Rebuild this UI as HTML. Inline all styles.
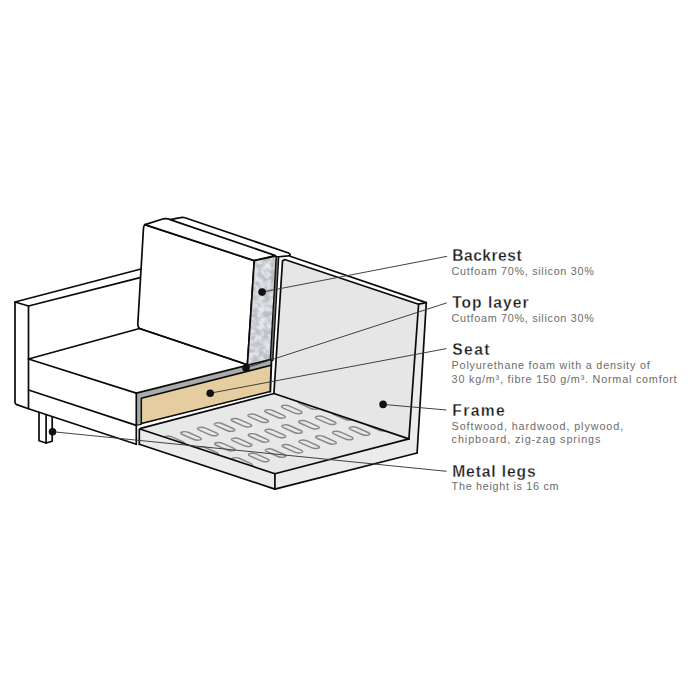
<!DOCTYPE html>
<html><head><meta charset="utf-8"><style>
html,body{margin:0;padding:0;background:#fff;width:700px;height:700px;overflow:hidden}
svg{display:block}
</style></head><body>
<svg width="700" height="700" viewBox="0 0 700 700">
<polygon points="282.70,259.50 418.60,304.20 408.90,438.90 273.90,393.50" fill="#e6e6e6"/>
<polygon points="282.70,259.50 290.10,256.30 426.30,302.60 418.60,304.20" fill="#ffffff"/>
<polygon points="418.60,304.20 426.30,302.60 417.10,453.00 408.90,438.90" fill="#ececec"/>
<polygon points="140.60,429.20 274.90,473.70 408.90,438.90 273.90,393.50" fill="#e8e8e8"/>
<polygon points="139.30,428.50 274.90,473.70 274.90,489.10 139.30,444.30" fill="#ebebeb"/>
<polygon points="274.90,473.70 408.90,438.90 417.10,453.00 274.90,489.10" fill="#ebebeb"/>
<clipPath id="plat"><polygon points="140.60,429.20 274.90,473.70 408.90,438.90 273.90,393.50"/></clipPath>
<g clip-path="url(#plat)"><rect x="-9.70" y="-3.50" width="19.40" height="7.00" rx="3.50" transform="matrix(0.9135,0.4067,0.9703,-0.2419,140.60,449.10)" fill="none" stroke="#888888" stroke-width="1.45" vector-effect="non-scaling-stroke"/><rect x="-9.70" y="-3.50" width="19.40" height="7.00" rx="3.50" transform="matrix(0.9135,0.4067,0.9703,-0.2419,157.40,444.70)" fill="none" stroke="#888888" stroke-width="1.45" vector-effect="non-scaling-stroke"/><rect x="-9.70" y="-3.50" width="19.40" height="7.00" rx="3.50" transform="matrix(0.9135,0.4067,0.9703,-0.2419,174.20,440.30)" fill="none" stroke="#888888" stroke-width="1.45" vector-effect="non-scaling-stroke"/><rect x="-9.70" y="-3.50" width="19.40" height="7.00" rx="3.50" transform="matrix(0.9135,0.4067,0.9703,-0.2419,191.00,435.90)" fill="none" stroke="#888888" stroke-width="1.45" vector-effect="non-scaling-stroke"/><rect x="-9.70" y="-3.50" width="19.40" height="7.00" rx="3.50" transform="matrix(0.9135,0.4067,0.9703,-0.2419,207.80,431.50)" fill="none" stroke="#888888" stroke-width="1.45" vector-effect="non-scaling-stroke"/><rect x="-9.70" y="-3.50" width="19.40" height="7.00" rx="3.50" transform="matrix(0.9135,0.4067,0.9703,-0.2419,224.60,427.10)" fill="none" stroke="#888888" stroke-width="1.45" vector-effect="non-scaling-stroke"/><rect x="-9.70" y="-3.50" width="19.40" height="7.00" rx="3.50" transform="matrix(0.9135,0.4067,0.9703,-0.2419,241.40,422.70)" fill="none" stroke="#888888" stroke-width="1.45" vector-effect="non-scaling-stroke"/><rect x="-9.70" y="-3.50" width="19.40" height="7.00" rx="3.50" transform="matrix(0.9135,0.4067,0.9703,-0.2419,258.20,418.30)" fill="none" stroke="#888888" stroke-width="1.45" vector-effect="non-scaling-stroke"/><rect x="-9.70" y="-3.50" width="19.40" height="7.00" rx="3.50" transform="matrix(0.9135,0.4067,0.9703,-0.2419,275.00,413.90)" fill="none" stroke="#888888" stroke-width="1.45" vector-effect="non-scaling-stroke"/><rect x="-9.70" y="-3.50" width="19.40" height="7.00" rx="3.50" transform="matrix(0.9135,0.4067,0.9703,-0.2419,291.80,409.50)" fill="none" stroke="#888888" stroke-width="1.45" vector-effect="non-scaling-stroke"/><rect x="-9.70" y="-3.50" width="19.40" height="7.00" rx="3.50" transform="matrix(0.9135,0.4067,0.9703,-0.2419,308.60,405.10)" fill="none" stroke="#888888" stroke-width="1.45" vector-effect="non-scaling-stroke"/><rect x="-9.70" y="-3.50" width="19.40" height="7.00" rx="3.50" transform="matrix(0.9135,0.4067,0.9703,-0.2419,325.40,400.70)" fill="none" stroke="#888888" stroke-width="1.45" vector-effect="non-scaling-stroke"/><rect x="-9.70" y="-3.50" width="19.40" height="7.00" rx="3.50" transform="matrix(0.9135,0.4067,0.9703,-0.2419,342.20,396.30)" fill="none" stroke="#888888" stroke-width="1.45" vector-effect="non-scaling-stroke"/><rect x="-9.70" y="-3.50" width="19.40" height="7.00" rx="3.50" transform="matrix(0.9135,0.4067,0.9703,-0.2419,359.00,391.90)" fill="none" stroke="#888888" stroke-width="1.45" vector-effect="non-scaling-stroke"/><rect x="-9.70" y="-3.50" width="19.40" height="7.00" rx="3.50" transform="matrix(0.9135,0.4067,0.9703,-0.2419,375.80,387.50)" fill="none" stroke="#888888" stroke-width="1.45" vector-effect="non-scaling-stroke"/><rect x="-9.70" y="-3.50" width="19.40" height="7.00" rx="3.50" transform="matrix(0.9135,0.4067,0.9703,-0.2419,392.60,383.10)" fill="none" stroke="#888888" stroke-width="1.45" vector-effect="non-scaling-stroke"/><rect x="-9.70" y="-3.50" width="19.40" height="7.00" rx="3.50" transform="matrix(0.9135,0.4067,0.9703,-0.2419,140.90,468.70)" fill="none" stroke="#888888" stroke-width="1.45" vector-effect="non-scaling-stroke"/><rect x="-9.70" y="-3.50" width="19.40" height="7.00" rx="3.50" transform="matrix(0.9135,0.4067,0.9703,-0.2419,157.70,464.30)" fill="none" stroke="#888888" stroke-width="1.45" vector-effect="non-scaling-stroke"/><rect x="-9.70" y="-3.50" width="19.40" height="7.00" rx="3.50" transform="matrix(0.9135,0.4067,0.9703,-0.2419,174.50,459.90)" fill="none" stroke="#888888" stroke-width="1.45" vector-effect="non-scaling-stroke"/><rect x="-9.70" y="-3.50" width="19.40" height="7.00" rx="3.50" transform="matrix(0.9135,0.4067,0.9703,-0.2419,191.30,455.50)" fill="none" stroke="#888888" stroke-width="1.45" vector-effect="non-scaling-stroke"/><rect x="-9.70" y="-3.50" width="19.40" height="7.00" rx="3.50" transform="matrix(0.9135,0.4067,0.9703,-0.2419,208.10,451.10)" fill="none" stroke="#888888" stroke-width="1.45" vector-effect="non-scaling-stroke"/><rect x="-9.70" y="-3.50" width="19.40" height="7.00" rx="3.50" transform="matrix(0.9135,0.4067,0.9703,-0.2419,224.90,446.70)" fill="none" stroke="#888888" stroke-width="1.45" vector-effect="non-scaling-stroke"/><rect x="-9.70" y="-3.50" width="19.40" height="7.00" rx="3.50" transform="matrix(0.9135,0.4067,0.9703,-0.2419,241.70,442.30)" fill="none" stroke="#888888" stroke-width="1.45" vector-effect="non-scaling-stroke"/><rect x="-9.70" y="-3.50" width="19.40" height="7.00" rx="3.50" transform="matrix(0.9135,0.4067,0.9703,-0.2419,258.50,437.90)" fill="none" stroke="#888888" stroke-width="1.45" vector-effect="non-scaling-stroke"/><rect x="-9.70" y="-3.50" width="19.40" height="7.00" rx="3.50" transform="matrix(0.9135,0.4067,0.9703,-0.2419,275.30,433.50)" fill="none" stroke="#888888" stroke-width="1.45" vector-effect="non-scaling-stroke"/><rect x="-9.70" y="-3.50" width="19.40" height="7.00" rx="3.50" transform="matrix(0.9135,0.4067,0.9703,-0.2419,292.10,429.10)" fill="none" stroke="#888888" stroke-width="1.45" vector-effect="non-scaling-stroke"/><rect x="-9.70" y="-3.50" width="19.40" height="7.00" rx="3.50" transform="matrix(0.9135,0.4067,0.9703,-0.2419,308.90,424.70)" fill="none" stroke="#888888" stroke-width="1.45" vector-effect="non-scaling-stroke"/><rect x="-9.70" y="-3.50" width="19.40" height="7.00" rx="3.50" transform="matrix(0.9135,0.4067,0.9703,-0.2419,325.70,420.30)" fill="none" stroke="#888888" stroke-width="1.45" vector-effect="non-scaling-stroke"/><rect x="-9.70" y="-3.50" width="19.40" height="7.00" rx="3.50" transform="matrix(0.9135,0.4067,0.9703,-0.2419,342.50,415.90)" fill="none" stroke="#888888" stroke-width="1.45" vector-effect="non-scaling-stroke"/><rect x="-9.70" y="-3.50" width="19.40" height="7.00" rx="3.50" transform="matrix(0.9135,0.4067,0.9703,-0.2419,359.30,411.50)" fill="none" stroke="#888888" stroke-width="1.45" vector-effect="non-scaling-stroke"/><rect x="-9.70" y="-3.50" width="19.40" height="7.00" rx="3.50" transform="matrix(0.9135,0.4067,0.9703,-0.2419,376.10,407.10)" fill="none" stroke="#888888" stroke-width="1.45" vector-effect="non-scaling-stroke"/><rect x="-9.70" y="-3.50" width="19.40" height="7.00" rx="3.50" transform="matrix(0.9135,0.4067,0.9703,-0.2419,392.90,402.70)" fill="none" stroke="#888888" stroke-width="1.45" vector-effect="non-scaling-stroke"/><rect x="-9.70" y="-3.50" width="19.40" height="7.00" rx="3.50" transform="matrix(0.9135,0.4067,0.9703,-0.2419,141.20,488.30)" fill="none" stroke="#888888" stroke-width="1.45" vector-effect="non-scaling-stroke"/><rect x="-9.70" y="-3.50" width="19.40" height="7.00" rx="3.50" transform="matrix(0.9135,0.4067,0.9703,-0.2419,158.00,483.90)" fill="none" stroke="#888888" stroke-width="1.45" vector-effect="non-scaling-stroke"/><rect x="-9.70" y="-3.50" width="19.40" height="7.00" rx="3.50" transform="matrix(0.9135,0.4067,0.9703,-0.2419,174.80,479.50)" fill="none" stroke="#888888" stroke-width="1.45" vector-effect="non-scaling-stroke"/><rect x="-9.70" y="-3.50" width="19.40" height="7.00" rx="3.50" transform="matrix(0.9135,0.4067,0.9703,-0.2419,191.60,475.10)" fill="none" stroke="#888888" stroke-width="1.45" vector-effect="non-scaling-stroke"/><rect x="-9.70" y="-3.50" width="19.40" height="7.00" rx="3.50" transform="matrix(0.9135,0.4067,0.9703,-0.2419,208.40,470.70)" fill="none" stroke="#888888" stroke-width="1.45" vector-effect="non-scaling-stroke"/><rect x="-9.70" y="-3.50" width="19.40" height="7.00" rx="3.50" transform="matrix(0.9135,0.4067,0.9703,-0.2419,225.20,466.30)" fill="none" stroke="#888888" stroke-width="1.45" vector-effect="non-scaling-stroke"/><rect x="-9.70" y="-3.50" width="19.40" height="7.00" rx="3.50" transform="matrix(0.9135,0.4067,0.9703,-0.2419,242.00,461.90)" fill="none" stroke="#888888" stroke-width="1.45" vector-effect="non-scaling-stroke"/><rect x="-9.70" y="-3.50" width="19.40" height="7.00" rx="3.50" transform="matrix(0.9135,0.4067,0.9703,-0.2419,258.80,457.50)" fill="none" stroke="#888888" stroke-width="1.45" vector-effect="non-scaling-stroke"/><rect x="-9.70" y="-3.50" width="19.40" height="7.00" rx="3.50" transform="matrix(0.9135,0.4067,0.9703,-0.2419,275.60,453.10)" fill="none" stroke="#888888" stroke-width="1.45" vector-effect="non-scaling-stroke"/><rect x="-9.70" y="-3.50" width="19.40" height="7.00" rx="3.50" transform="matrix(0.9135,0.4067,0.9703,-0.2419,292.40,448.70)" fill="none" stroke="#888888" stroke-width="1.45" vector-effect="non-scaling-stroke"/><rect x="-9.70" y="-3.50" width="19.40" height="7.00" rx="3.50" transform="matrix(0.9135,0.4067,0.9703,-0.2419,309.20,444.30)" fill="none" stroke="#888888" stroke-width="1.45" vector-effect="non-scaling-stroke"/><rect x="-9.70" y="-3.50" width="19.40" height="7.00" rx="3.50" transform="matrix(0.9135,0.4067,0.9703,-0.2419,326.00,439.90)" fill="none" stroke="#888888" stroke-width="1.45" vector-effect="non-scaling-stroke"/><rect x="-9.70" y="-3.50" width="19.40" height="7.00" rx="3.50" transform="matrix(0.9135,0.4067,0.9703,-0.2419,342.80,435.50)" fill="none" stroke="#888888" stroke-width="1.45" vector-effect="non-scaling-stroke"/><rect x="-9.70" y="-3.50" width="19.40" height="7.00" rx="3.50" transform="matrix(0.9135,0.4067,0.9703,-0.2419,359.60,431.10)" fill="none" stroke="#888888" stroke-width="1.45" vector-effect="non-scaling-stroke"/><rect x="-9.70" y="-3.50" width="19.40" height="7.00" rx="3.50" transform="matrix(0.9135,0.4067,0.9703,-0.2419,376.40,426.70)" fill="none" stroke="#888888" stroke-width="1.45" vector-effect="non-scaling-stroke"/><rect x="-9.70" y="-3.50" width="19.40" height="7.00" rx="3.50" transform="matrix(0.9135,0.4067,0.9703,-0.2419,393.20,422.30)" fill="none" stroke="#888888" stroke-width="1.45" vector-effect="non-scaling-stroke"/></g>
<polygon points="15.00,302.00 141.00,269.00 140.00,277.60 28.50,306.00" fill="#fff"/>
<polygon points="39.00,412.70 52.20,417.20 52.20,441.30 46.10,443.00 39.00,440.70" fill="#fff"/>
<polygon points="136.30,393.10 271.30,359.30 270.30,392.00 136.30,425.20" fill="#a9acaf"/>
<polygon points="141.30,398.20 271.00,365.30 270.20,391.40 141.30,423.60" fill="#e5cd9f"/>
<path d="M144.9,224.6 L254.3,260.6 L247.4,364.8 L139.5,328.5 Q137.6,327 137.8,324 L143.5,228 Q143.8,225.5 144.9,224.6 Z" fill="#fff" stroke="#0a0a0a" stroke-width="1.7" stroke-linejoin="round"/>
<path d="M170,219.6 L180.5,217.6 Q183,217 185,217.8 L288.5,253 Q290.5,254 290,255.5 L288,255.8 L276.5,257" fill="#fff" stroke="#0a0a0a" stroke-width="1.7" stroke-linejoin="round"/>
<path d="M144.9,224.6 L163.5,218.8 Q167,218 170,219.6 L275.5,255.6 L254.3,260.6 Z" fill="#fff" stroke="#0a0a0a" stroke-width="1.7" stroke-linejoin="round"/>
<defs><filter id="mot" x="0" y="0" width="100%" height="100%" color-interpolation-filters="sRGB"><feTurbulence type="fractalNoise" baseFrequency="0.17" numOctaves="2" seed="11"/><feColorMatrix type="matrix" values="1 0 0 0 0  1 0 0 0 0  1 0 0 0 0  0 0 0 0 1"/><feComponentTransfer><feFuncR type="table" tableValues="0.70 0.72 0.77 0.86 0.92 0.94"/><feFuncG type="table" tableValues="0.71 0.73 0.78 0.87 0.93 0.95"/><feFuncB type="table" tableValues="0.73 0.75 0.80 0.89 0.94 0.96"/></feComponentTransfer></filter>
<clipPath id="foamclip"><polygon points="254.30,260.60 276.00,256.00 271.60,361.00 247.40,364.80"/></clipPath></defs>
<g clip-path="url(#foamclip)"><rect x="244" y="252" width="36" height="116" filter="url(#mot)"/></g>
<polyline points="247.40,364.80 254.30,260.60 276.00,256.00" fill="none" stroke="#0a0a0a" stroke-width="1.7" stroke-linejoin="round"/>
<line x1="277.5" y1="256" x2="271.5" y2="361" stroke="#0a0a0a" stroke-width="3.9"/>
<line x1="277.5" y1="257" x2="271.5" y2="360" stroke="#6e6e6e" stroke-width="1.3"/>
<polyline points="139.30,444.30 139.30,429.50 140.60,428.40 273.90,393.50" fill="none" stroke="#0a0a0a" stroke-width="1.7" stroke-linejoin="round" stroke-linecap="round"/>
<polyline points="140.60,429.20 274.90,473.70 408.90,438.90" fill="none" stroke="#0a0a0a" stroke-width="1.7" stroke-linejoin="round" stroke-linecap="round"/>
<polyline points="273.90,393.50 408.90,438.90" fill="none" stroke="#0a0a0a" stroke-width="1.7" stroke-linejoin="round" stroke-linecap="round"/>
<polyline points="139.30,444.30 274.90,489.10 417.10,453.00" fill="none" stroke="#0a0a0a" stroke-width="1.7" stroke-linejoin="round" stroke-linecap="round"/>
<polyline points="274.90,473.70 274.90,489.10" fill="none" stroke="#0a0a0a" stroke-width="1.7" stroke-linejoin="round" stroke-linecap="round"/>
<polyline points="273.90,393.50 282.50,261.00 284.60,259.50 418.60,304.20 408.90,438.90" fill="none" stroke="#0a0a0a" stroke-width="1.7" stroke-linejoin="round" stroke-linecap="round"/>
<polyline points="290.10,256.20 426.30,302.60 417.10,453.00" fill="none" stroke="#0a0a0a" stroke-width="1.7" stroke-linejoin="round" stroke-linecap="round"/>
<polyline points="418.60,304.20 426.30,302.60" fill="none" stroke="#0a0a0a" stroke-width="1.7" stroke-linejoin="round" stroke-linecap="round"/>
<polyline points="15.00,302.00 141.00,269.00" fill="none" stroke="#0a0a0a" stroke-width="1.7" stroke-linejoin="round" stroke-linecap="round"/>
<path d="M15,302 L15,402.3 Q15,404 16.8,404.6 L28.5,408.7 L136.3,444.3" fill="none" stroke="#0a0a0a" stroke-width="1.7" stroke-linejoin="round"/>
<polyline points="15.00,302.00 28.50,306.00 140.00,277.60" fill="none" stroke="#0a0a0a" stroke-width="1.7" stroke-linejoin="round" stroke-linecap="round"/>
<polyline points="28.50,306.00 28.50,408.50" fill="none" stroke="#0a0a0a" stroke-width="1.7" stroke-linejoin="round" stroke-linecap="round"/>
<polyline points="28.50,359.00 139.50,328.50" fill="none" stroke="#0a0a0a" stroke-width="1.7" stroke-linejoin="round" stroke-linecap="round"/>
<polyline points="28.50,359.00 136.30,393.10" fill="none" stroke="#0a0a0a" stroke-width="1.7" stroke-linejoin="round" stroke-linecap="round"/>
<polyline points="28.50,390.00 136.30,425.40" fill="none" stroke="#0a0a0a" stroke-width="1.7" stroke-linejoin="round" stroke-linecap="round"/>
<polyline points="136.30,393.10 136.30,444.30" fill="none" stroke="#0a0a0a" stroke-width="1.7" stroke-linejoin="round" stroke-linecap="round"/>
<polyline points="39.00,412.70 39.00,440.70 46.10,443.00 52.20,441.30 52.20,417.20" fill="none" stroke="#0a0a0a" stroke-width="1.7" stroke-linejoin="round" stroke-linecap="round"/>
<polyline points="46.10,415.00 46.10,443.00" fill="none" stroke="#0a0a0a" stroke-width="1.7" stroke-linejoin="round" stroke-linecap="round"/>
<polyline points="136.30,393.10 271.30,359.30" fill="none" stroke="#0a0a0a" stroke-width="1.7" stroke-linejoin="round" stroke-linecap="round"/>
<polyline points="141.30,423.60 141.30,398.20 271.00,365.30" fill="none" stroke="#0a0a0a" stroke-width="1.5" stroke-linejoin="round" stroke-linecap="round"/>
<polyline points="141.30,423.60 270.20,391.40" fill="none" stroke="#0a0a0a" stroke-width="1.5" stroke-linejoin="round" stroke-linecap="round"/>
<polyline points="136.30,425.20 141.30,424.50" fill="none" stroke="#0a0a0a" stroke-width="1.2" stroke-linejoin="round" stroke-linecap="round"/>
<polyline points="271.50,360.00 270.30,391.60" fill="none" stroke="#0a0a0a" stroke-width="1.9" stroke-linejoin="round" stroke-linecap="round"/>
<polyline points="139.50,328.50 247.40,364.80" fill="none" stroke="#0a0a0a" stroke-width="1.7" stroke-linejoin="round" stroke-linecap="round"/>
<line x1="262.1" y1="292.1" x2="447.1" y2="256.3" stroke="#383838" stroke-width="0.95"/>
<circle cx="262.1" cy="292.1" r="3.8" fill="#111"/>
<line x1="246" y1="368" x2="446.7" y2="302.9" stroke="#383838" stroke-width="0.95"/>
<circle cx="246" cy="368" r="3.8" fill="#111"/>
<line x1="210.2" y1="393.2" x2="446.4" y2="348.6" stroke="#383838" stroke-width="0.95"/>
<circle cx="210.2" cy="393.2" r="3.8" fill="#111"/>
<line x1="383.1" y1="404.4" x2="446.4" y2="410" stroke="#383838" stroke-width="0.95"/>
<circle cx="383.1" cy="404.4" r="3.8" fill="#111"/>
<line x1="52.5" y1="431.7" x2="446.5" y2="471.3" stroke="#383838" stroke-width="0.95"/>
<circle cx="52.5" cy="431.7" r="3.8" fill="#111"/>
<text x="452.2" y="261.0" font-family="Liberation Sans" font-weight="bold" font-size="15.6" fill="#1a1a1a" stroke="#fff" stroke-width="0.3" textLength="69.4" lengthAdjust="spacing">Backrest</text>
<text x="451.6" y="275.3" font-family="Liberation Sans" font-size="10.8" fill="#6c6c6c" textLength="142.2" lengthAdjust="spacing">Cutfoam 70%, silicon 30%</text>
<text x="452.2" y="308.4" font-family="Liberation Sans" font-weight="bold" font-size="15.6" fill="#1a1a1a" stroke="#fff" stroke-width="0.3" textLength="76.3" lengthAdjust="spacing">Top layer</text>
<text x="451.6" y="321.7" font-family="Liberation Sans" font-size="10.8" fill="#6c6c6c" textLength="142.2" lengthAdjust="spacing">Cutfoam 70%, silicon 30%</text>
<text x="452.2" y="354.7" font-family="Liberation Sans" font-weight="bold" font-size="15.6" fill="#1a1a1a" stroke="#fff" stroke-width="0.3" textLength="37.3" lengthAdjust="spacing">Seat</text>
<text x="451.6" y="368.6" font-family="Liberation Sans" font-size="10.8" fill="#6c6c6c" textLength="198.1" lengthAdjust="spacing">Polyurethane foam with a density of</text>
<text x="451.6" y="382.9" font-family="Liberation Sans" font-size="10.8" fill="#6c6c6c" textLength="225" lengthAdjust="spacing">30 kg/m³, fibre 150 g/m³. Normal comfort</text>
<text x="452.2" y="416.09999999999997" font-family="Liberation Sans" font-weight="bold" font-size="15.6" fill="#1a1a1a" stroke="#fff" stroke-width="0.3" textLength="52.6" lengthAdjust="spacing">Frame</text>
<text x="451.6" y="430" font-family="Liberation Sans" font-size="10.8" fill="#6c6c6c" textLength="171.6" lengthAdjust="spacing">Softwood, hardwood, plywood,</text>
<text x="451.6" y="442.9" font-family="Liberation Sans" font-size="10.8" fill="#6c6c6c" textLength="148.8" lengthAdjust="spacing">chipboard, zig-zag springs</text>
<text x="452.2" y="476.5" font-family="Liberation Sans" font-weight="bold" font-size="15.6" fill="#1a1a1a" stroke="#fff" stroke-width="0.3" textLength="83.5" lengthAdjust="spacing">Metal legs</text>
<text x="451.6" y="490.1" font-family="Liberation Sans" font-size="10.8" fill="#6c6c6c" textLength="107" lengthAdjust="spacing">The height is 16 cm</text>
</svg></body></html>
